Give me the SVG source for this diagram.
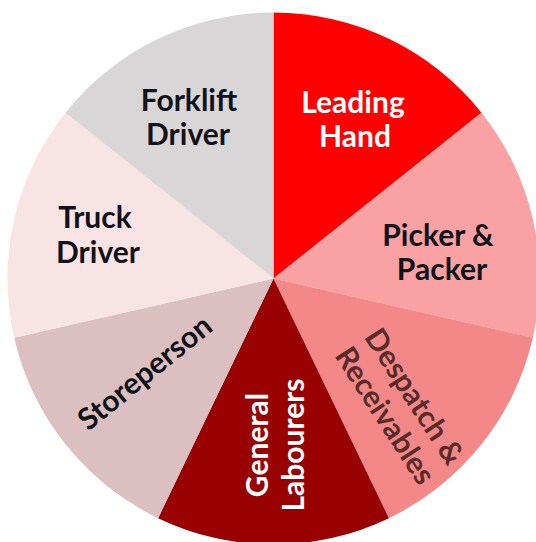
<svg xmlns="http://www.w3.org/2000/svg" width="536" height="542" viewBox="0 0 536 542">
<style>
.lbl{font-family:"Lato","Liberation Sans",sans-serif;font-weight:bold;font-size:30px;text-anchor:middle;fill:#111118}
.w{fill:#ffffff}
.br{fill:#5a2b27}
</style>
<rect width="536" height="542" fill="#ffffff"/>
<g id="leading-hand">
<path d="M273.5,278.5 L273.5,12.5 A266,266 0 0 1 481.47,112.65 Z" fill="#ff0000"/>
<text class="lbl w" x="353" y="113">Leading</text>
<text class="lbl w" x="355" y="147">Hand</text>
</g>
<g id="picker-packer">
<path d="M273.5,278.5 L481.47,112.65 A266,266 0 0 1 532.83,337.69 Z" fill="#f9a1a3"/>
<text class="lbl" x="438" y="246">Picker &amp;</text>
<text class="lbl" x="442" y="280">Packer</text>
</g>
<g id="despatch-receivables">
<path d="M273.5,278.5 L532.83,337.69 A266,266 0 0 1 388.91,518.16 Z" fill="#f48889"/>
<g transform="translate(400,406) rotate(57)">
<text class="lbl br" x="0" y="-7">Despatch &amp;</text>
<text class="lbl br" x="0" y="28">Receivables</text>
</g>
</g>
<g id="general-labourers">
<path d="M273.5,278.5 L388.91,518.16 A266,266 0 0 1 158.09,518.16 Z" fill="#990000"/>
<g transform="translate(286,445) rotate(-90)">
<text class="lbl w" x="0" y="-18">General</text>
<text class="lbl w" x="0" y="18">Labourers</text>
</g>
</g>
<g id="storeperson">
<path d="M273.5,278.5 L158.09,518.16 A266,266 0 0 1 14.17,337.69 Z" fill="#dbbfc1"/>
<text class="lbl" transform="translate(145,373) rotate(-39)" x="0" y="10">Storeperson</text>
</g>
<g id="truck-driver">
<path d="M273.5,278.5 L14.17,337.69 A266,266 0 0 1 65.53,112.65 Z" fill="#f8e4e5"/>
<text class="lbl" x="95" y="228">Truck</text>
<text class="lbl" x="98" y="263">Driver</text>
</g>
<g id="forklift-driver">
<path d="M273.5,278.5 L65.53,112.65 A266,266 0 0 1 273.5,12.5 Z" fill="#d9d6d7"/>
<text class="lbl" x="189" y="111">Forklift</text>
<text class="lbl" x="188" y="145">Driver</text>
</g>
<g id="connectors"></g>
</svg>
